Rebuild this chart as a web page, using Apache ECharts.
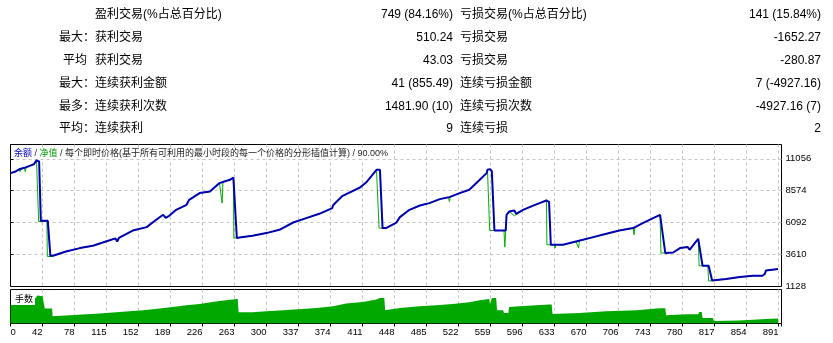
<!DOCTYPE html>
<html>
<head>
<meta charset="utf-8">
<script src="https://cdn.jsdelivr.net/npm/echarts/dist/echarts.min.js"></script>
<style>
html,body{margin:0;padding:0;background:#fff;}
#c{width:833px;height:343px;}
</style>
</head>
<body>
<div id="c"></div>
<script>
// ---------- data ----------
const xTickLabels = ['0','42','78','115','152','189','226','263','300','337','374','411','448','485','522','559','596','633','670','706','743','780','817','854','891'];
const yTickLabels = ['1128','3610','6092','8574','11056'];

const statLabelsA = ['', '最大：', '平均', '最大：', '最多：', '平均：'];
const statLabelsB = ['盈利交易(%占总百分比)', '获利交易', '获利交易', '连续获利金额', '连续获利次数', '连续获利'];
const statValuesB = ['749 (84.16%)', '510.24', '43.03', '41 (855.49)', '1481.90 (10)', '9'];
const statLabelsC = ['亏损交易(%占总百分比)', '亏损交易', '亏损交易', '连续亏损金额', '连续亏损次数', '连续亏损'];
const statValuesC = ['141 (15.84%)', '-1652.27', '-280.87', '7 (-4927.16)', '-4927.16 (7)', '2'];

// [trade #, balance]
const balance = [
[5,9945],[10,10046],[15,10240],[21,10357],[27,10512],[32,10629],[35,10940],[37,11033],[38,10850],[40,6236],[48,6236],[51,3515],
[54,3515],[69,3849],[85,4114],[100,4292],[115,4627],[126,4870],[128,4627],[130,4900],[131,4938],[146,5482],[162,5746],[173,6314],[181,6703],[184,6469],[188,6625],[196,7091],[208,7480],[211,7869],[223,8390],[235,8514],[246,9167],[258,9424],[262,9603],[263,9500],[266,4891],
[269,4938],[284,5070],[300,5280],[315,5536],[331,6104],[346,6446],[361,6780],[376,7224],[377,7450],[380,7659],[388,8180],[408,8825],[415,9214],[427,10201],[429,10334],[431,10200],[434,5669],
[438,5669],[450,6104],[454,6524],[465,7091],[477,7426],[488,7612],[500,7923],[511,8079],[523,8390],[534,8646],[544,9292],[554,9945],[555,10201],[558,10256],[560,10100],[563,5482],
[576,5482],[577,6703],[580,6959],[586,7037],[588,6780],[596,7091],[607,7402],[615,7612],[623,7815],[624,7869],[626,7700],[628,4370],
[642,4370],[657,4627],[665,4759],[677,4969],[692,5225],[707,5482],[723,5669],[734,6057],[746,6446],[754,6703],[756,6600],[760,3725],
[769,3772],[777,4114],[786,4191],[788,3981],[794,4502],[798,4837],[800,4700],[803,2737],[810,2737],[814,1595],
[815,1595],[830,1703],[846,1859],[861,1960],[872,1960],[873,2115],[875,2115],[876,2372],[890,2481]
];

// [trade #, equity]
const equity = [
[5,9945],[10,10046],[15,10240],[16,10069],[17,10240],[21,10357],[22,10069],[23,10357],[27,10512],[32,10629],[35,10940],[37,11033],[37.5,6182],[47,6182],[47.5,3461],[52,3461],[54,3515],
[69,3849],[85,4114],[100,4292],[115,4627],[126,4870],[128,4627],[130,4900],[131,4938],[146,5482],[162,5746],[173,6314],[181,6703],[184,6469],[188,6625],[196,7091],[208,7480],[211,7869],[223,8390],[235,8514],[246,9167],[248,9250],[249,7612],[250,9300],[258,9424],[262,9603],[262.5,4891],[269,4938],
[284,5070],[300,5280],[315,5536],[331,6104],[346,6446],[361,6780],[376,7224],[377,7450],[380,7659],[388,8180],[408,8825],[415,9214],[427,10201],[429,10334],[430,5669],[438,5669],
[450,6104],[454,6524],[465,7091],[477,7426],[488,7612],[500,7923],[510,8079],[511,7737],[512,8079],[523,8390],[534,8646],[544,9292],[554,9945],[555,10201],[557,10256],[557.5,5482],[574,5482],[575,4191],[576,5482],[577,6703],[580,6959],[586,6625],[588,6780],[596,7091],[607,7402],[615,7612],[623,7869],[623.5,4370],[632,4370],[633,4114],[634,4370],
[642,4370],[657,4627],[659,4627],[660,4114],[661,4700],[665,4759],[677,4969],[692,5225],[707,5482],[723,5669],[724,5148],[725,5700],[734,6057],[746,6446],[754,6703],[755,3725],
[769,3772],[777,4114],[786,4191],[788,3981],[794,4502],[798,4837],[799,2737],[809,2737],[810,1548],[815,1595],[830,1703],[846,1859],[861,1960],[872,1960],[873,2115],[875,2115],[876,2372],[890,2481]
];

// [trade #, lots]
const volume = [
[5,1.83],[31,2.23],[36,2.80],[42,2.73],[44,2.73],[44.5,1.50],[53,1.50],[53.5,0.73],[69,0.80],[88,0.90],[108,1.00],[138,1.20],[158,1.33],[177,1.50],[192,1.66],[208,1.83],[223,1.96],[238,2.16],[246,2.26],[261,2.40],[263,2.46],[267,2.46],[268,1.13],[284,1.13],[300,1.23],[319,1.33],[358,1.56],[377,1.73],[392,2.00],[411,2.16],[427,2.40],[431,2.56],[436,2.56],[437,1.33],[454,1.56],[477,1.73],[496,1.83],[515,1.96],[534,2.13],[546,2.33],[557,2.46],[558,1.90],[559,1.90],[560,2.56],[565,2.56],[566,1.33],[573,1.33],[574,1.06],[579,1.06],[580,1.66],[592,1.73],[626,1.90],[629,1.90],[630,0.96],[661,1.06],[692,1.23],[727,1.33],[753,1.53],[760,1.53],[761,0.83],[784,0.93],[798,0.93],[799,1.16],[802,1.16],[803,0.56],[815,0.56],[816,0.26],[845,0.30],[846,0.40],[876,0.45],[877,0.50],[890,0.50]
];

// ---------- chart ----------
const FONT = '"Liberation Sans", "Noto Sans CJK SC", sans-serif';
const chart = echarts.init(document.getElementById('c'), null, {renderer: 'canvas'});

function tickLabel(arr) {
  return function (v) {
    const i = Math.round(v);
    return (Math.abs(v - i) < 1e-6 && arr[i] !== undefined) ? arr[i] : '';
  };
}
const dashed = {show: true, showMinLine: false, showMaxLine: false,
  lineStyle: {color: '#c4c4c4', type: [3, 3], width: 1}};

const graphics = [];
const rowY = [15, 38, 61, 83.5, 106.5, 129];
const tStyle = {fontSize: 12, fontFamily: FONT, fill: '#000', verticalAlign: 'middle'};
rowY.forEach(function (y, i) {
  if (statLabelsA[i]) {
    graphics.push({type: 'text', x: statLabelsA[i].endsWith('：') ? 95 : 87, y: y,
      style: Object.assign({}, tStyle, {text: statLabelsA[i], align: 'right'})});
  }
  graphics.push({type: 'text', x: 95, y: y, style: Object.assign({}, tStyle, {text: statLabelsB[i], align: 'left'})});
  graphics.push({type: 'text', x: 453, y: y, style: Object.assign({}, tStyle, {text: statValuesB[i], align: 'right'})});
  graphics.push({type: 'text', x: 460, y: y, style: Object.assign({}, tStyle, {text: statLabelsC[i], align: 'left'})});
  graphics.push({type: 'text', x: 821, y: y, style: Object.assign({}, tStyle, {text: statValuesC[i], align: 'right'})});
});
graphics.push({type: 'text', x: 13, y: 299.5, z: 100,
  style: {text: '手数', fontSize: 9, fontFamily: FONT, fill: '#000', backgroundColor: '#fff',
    padding: [1, 2, 1, 2], verticalAlign: 'middle', align: 'left'}});

const option = {
  animation: false,
  backgroundColor: '#fff',
  title: {
    text: '{b|余额} / {g|净值} / 每个即时价格(基于所有可利用的最小时段的每一个价格的分形插值计算) / 90.00%',
    left: 12, top: 148, padding: [1, 2, 1, 2],
    backgroundColor: '#fff',
    textStyle: {fontSize: 9, fontWeight: 'normal', color: '#222', fontFamily: FONT,
      rich: {b: {color: '#0000c0', fontSize: 9, fontFamily: FONT}, g: {color: '#00a000', fontSize: 9, fontFamily: FONT}}}
  },
  grid: [
    {left: 10.5, top: 144.5, width: 771, height: 142, show: true, borderColor: '#000', borderWidth: 1},
    {left: 10.5, top: 289.5, width: 771, height: 34, show: true, borderColor: '#000', borderWidth: 1}
  ],
  xAxis: [
    {gridIndex: 0, type: 'value', min: 0, max: 24.094, interval: 1,
      axisLine: {show: false}, axisTick: {show: false}, axisLabel: {show: false}, splitLine: dashed},
    {gridIndex: 0, type: 'value', min: 5, max: 894, show: false},
    {gridIndex: 1, type: 'value', min: 0, max: 24.094, interval: 1,
      axisLine: {show: false},
      axisTick: {show: true, length: 3, lineStyle: {color: '#000'}},
      axisLabel: {show: true, interval: 0, formatter: tickLabel(xTickLabels), align: 'right', alignMinLabel: 'left',
        margin: 4, fontSize: 9.5, color: '#000', fontFamily: FONT},
      splitLine: dashed},
    {gridIndex: 1, type: 'value', min: 5, max: 894, show: false}
  ],
  yAxis: [
    {gridIndex: 0, type: 'value', position: 'right', min: 0, max: 4.449, interval: 1,
      axisLine: {show: false},
      axisTick: {show: true, length: 3, lineStyle: {color: '#000'}},
      axisLabel: {show: true, formatter: tickLabel(yTickLabels), margin: 4, fontSize: 9.5, color: '#000',
        fontFamily: FONT, padding: [3, 0, 0, 0]},
      splitLine: dashed},
    {gridIndex: 0, type: 'value', min: 1128, max: 12170, show: false},
    {gridIndex: 1, type: 'value', min: 0, max: 3.4, show: false}
  ],
  series: [
    {type: 'line', name: '手数', xAxisIndex: 3, yAxisIndex: 2, data: volume, symbol: 'none',
      lineStyle: {width: 0}, areaStyle: {color: '#00a800', opacity: 1}, silent: true, z: 1},
    {type: 'line', name: '净值', xAxisIndex: 1, yAxisIndex: 1, data: equity, symbol: 'none',
      lineStyle: {color: '#00b000', width: 1}, silent: true, z: 2},
    {type: 'line', name: '余额', xAxisIndex: 1, yAxisIndex: 1, data: balance, symbol: 'none',
      lineStyle: {color: '#0000b0', width: 2}, silent: true, z: 3}
  ],
  graphic: graphics
};
chart.setOption(option);
</script>
</body>
</html>
